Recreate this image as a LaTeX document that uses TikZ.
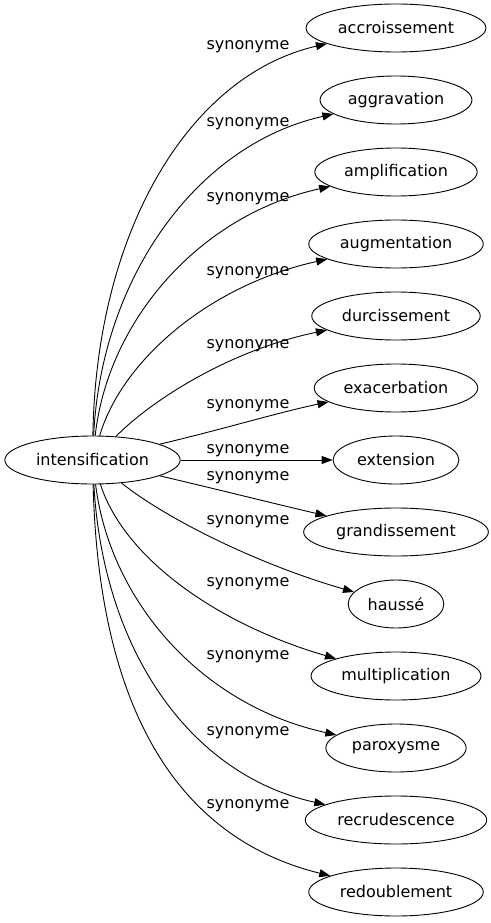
\documentclass[tikz,border=0pt]{standalone}
\usepackage{fontspec}
\setmainfont{DejaVu Sans}
\usetikzlibrary{positioning, arrows.meta, shapes.geometric}

\begin{document}
\begin{tikzpicture}[
        x=1pt, y=-1pt,
        font=\fontsize{16pt}{19pt}\selectfont,
        word/.style = {draw, black, ellipse, line width=0.9pt, minimum height=48pt, inner xsep=5.5pt, inner ysep=2pt},
        lbl/.style = {inner sep=0pt},
        syn/.style = {-{Triangle[length=11pt, width=8pt]}, line width=0.9pt}
    ]
        \useasboundingbox (0,0) rectangle (490,923);
        \node[word] (intensification) at (92.5,460) {intensification};
        \node[word] (accroissement) at (396,28) {accroissement};
        \node[word, below=23.1pt of accroissement] (aggravation) {aggravation};
        \node[word, below=23.1pt of aggravation] (amplification) {amplification};
        \node[word, below=23.1pt of amplification] (augmentation) {augmentation};
        \node[word, below=23.1pt of augmentation] (durcissement) {durcissement};
        \node[word, below=23.1pt of durcissement] (exacerbation) {exacerbation};
        \node[word, below=23.1pt of exacerbation] (extension) {extension};
        \node[word, below=23.1pt of extension] (grandissement) {grandissement};
        \node[word, below=23.1pt of grandissement] (hausse) {haussé};
        \node[word, below=23.1pt of hausse] (multiplication) {multiplication};
        \node[word, below=23.1pt of multiplication] (paroxysme) {paroxysme};
        \node[word, below=23.1pt of paroxysme] (recrudescence) {recrudescence};
        \node[word, below=23.1pt of recrudescence] (redoublement) {redoublement};
        % edge labels
        \node[lbl] (l1) at (248,47) {synonyme};
        \node[lbl] (l2) at (248,124) {synonyme};
        \node[lbl] (l3) at (248,199) {synonyme};
        \node[lbl] (l4) at (248,273) {synonyme};
        \node[lbl] (l5) at (248,346) {synonyme};
        \node[lbl] (l6) at (248,406) {synonyme};
        \node[lbl] (l7) at (248,451) {synonyme};
        \node[lbl] (l8) at (248,478) {synonyme};
        \node[lbl] (l9) at (248,522) {synonyme};
        \node[lbl] (l10) at (248,584) {synonyme};
        \node[lbl] (l11) at (248,657) {synonyme};
        \node[lbl] (l12) at (248,733) {synonyme};
        \node[lbl] (l13) at (248,806) {synonyme};
        % edges
        \draw[syn] (intensification) .. controls (96,230) and (190,75) .. (accroissement);
        \draw[syn] (intensification) .. controls (101,280) and (195,145) .. (aggravation);
        \draw[syn] (intensification) .. controls (108,320) and (200,215) .. (amplification);
        \draw[syn] (intensification) .. controls (122,360) and (210,285) .. (augmentation);
        \draw[syn] (intensification) .. controls (152,400) and (230,350) .. (durcissement);
        \draw[syn] (intensification) .. controls (220,430) and (280,412) .. (exacerbation);
        \draw[syn] (intensification) -- (extension);
        \draw[syn] (intensification) .. controls (220,490) and (280,505) .. (grandissement);
        \draw[syn] (intensification) .. controls (168,520) and (260,565) .. (hausse);
        \draw[syn] (intensification) .. controls (125,560) and (220,625) .. (multiplication);
        \draw[syn] (intensification) .. controls (110,600) and (200,705) .. (paroxysme);
        \draw[syn] (intensification) .. controls (103,650) and (190,775) .. (recrudescence);
        \draw[syn] (intensification) .. controls (99,720) and (185,840) .. (redoublement);
    \end{tikzpicture}
\end{document}
